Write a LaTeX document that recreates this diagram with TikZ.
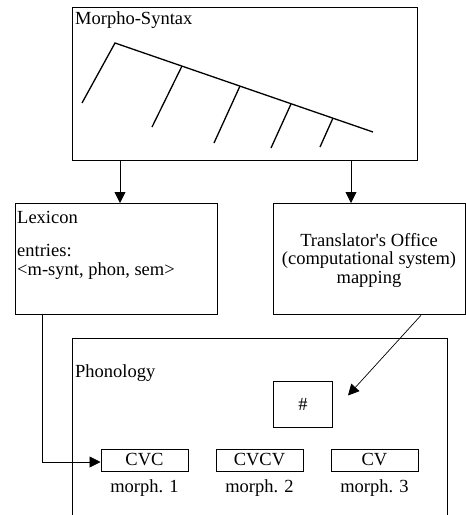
\documentclass[tikz,border=0pt]{standalone}
\usepackage{fontspec}
\setmainfont{Liberation Serif}
\usetikzlibrary{arrows.meta}
\tikzset{
  frame/.style={draw,line width=1.3pt,inner sep=0,anchor=north west},
  cell/.style={draw,line width=1pt,inner sep=0,minimum width=87pt,minimum height=22pt},
  lbl/.style={inner sep=0,anchor=base west},
  branch/.style={line width=1.3pt},
  feed/.style={line width=0.9pt,-{Triangle[length=11pt,width=11pt]}},
}

\begin{document}
\begin{tikzpicture}[x=1pt,y=-1pt,font=\fontsize{18.5}{19}\selectfont]
    \useasboundingbox (0,0) rectangle (466,515);

    % morpho-syntax and its tree
    \node[frame,minimum width=345pt,minimum height=153pt] (syn) at (72,7) {};
    \node[lbl] (synname) at (75,24) {Morpho-Syntax};
    \draw[branch] (82,103) -- (115,43) -- (373,132);
    \draw[branch] (182,66) -- (152,127);
    \draw[branch] (240,86) -- (214,143);
    \draw[branch] (291,104) -- (271,148);
    \draw[branch] (333,118) -- (320,147);

    % lexicon
    \node[frame,minimum width=202pt,minimum height=111pt] (lex) at (15,203) {};
    \node[lbl] (lexname) at (17,223) {Lexicon};
    \node[lbl] (entries) at (17,256) {entries:};
    \node[lbl] (triple) at (17,275) {<m-synt, phon, sem>};

    % translator's office
    \node[frame,minimum width=192pt,minimum height=111pt] (office) at (273,203) {};
    \node[inner sep=0,anchor=base] (officename) at (369,246) {Translator\textquotesingle s Office};
    \node[inner sep=0,anchor=base] (comp) at (369,264.5) {(computational system)};
    \node[inner sep=0,anchor=base] (mapping) at (369,283) {mapping};

    % phonology
    \draw[line width=1pt] (72,515) |- (447,338) -- (447,515);
    \node[lbl] (phonname) at (75,377) {Phonology};
    \node[frame,line width=1pt,minimum width=59pt,minimum height=46pt] (hash) at (273,381) {\#};
    \foreach \pat/\x/\i in {CVC/144.5/1, CVCV/259.5/2, CV/374.5/3} {
      \node[cell] (m\i) at (\x,460) {\pat};
      \node[inner sep=0,anchor=base] (m\i name) at (\x,492) {morph. \i};
    }

    % arrows
    \draw[feed] ([xshift=48pt]syn.south west) -- ([xshift=105pt]lex.north west);
    \draw[feed] ([xshift=279pt]syn.south west) -- ([xshift=78pt]office.north west);
    \draw[feed,line width=0.7pt] ([xshift=148pt]office.south west) -- ([shift={(15,-9)}]hash.east);
    \draw[feed,line width=0.7pt] ([xshift=27pt]lex.south west) |- ([yshift=-2pt]m1.west);
\end{tikzpicture}
\end{document}
